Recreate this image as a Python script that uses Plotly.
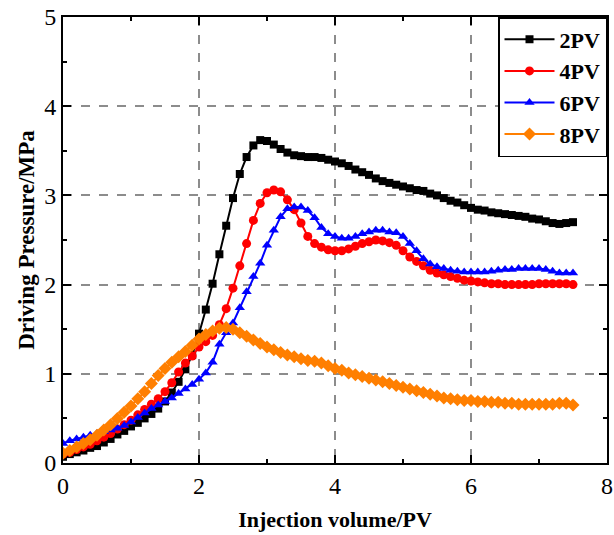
import plotly.graph_objects as go

x_pv = [0.0, 0.1, 0.2, 0.3, 0.4, 0.5, 0.6, 0.7, 0.8, 0.9,
        1.0, 1.1, 1.2, 1.3, 1.4, 1.5, 1.6, 1.7, 1.8, 1.9,
        2.0, 2.1, 2.2, 2.3, 2.4, 2.5, 2.6, 2.7, 2.8, 2.9,
        3.0, 3.1, 3.2, 3.3, 3.4, 3.5, 3.6, 3.7, 3.8, 3.9,
        4.0, 4.1, 4.2, 4.3, 4.4, 4.5, 4.6, 4.7, 4.8, 4.9,
        5.0, 5.1, 5.2, 5.3, 5.4, 5.5, 5.6, 5.7, 5.8, 5.9,
        6.0, 6.1, 6.2, 6.3, 6.4, 6.5, 6.6, 6.7, 6.8, 6.9,
        7.0, 7.1, 7.2, 7.3, 7.4, 7.5]

p_2pv = [0.07, 0.10, 0.12, 0.14, 0.17, 0.19, 0.23, 0.27, 0.32, 0.36,
         0.41, 0.45, 0.50, 0.55, 0.61, 0.69, 0.79, 0.91, 1.05, 1.21,
         1.45, 1.72, 2.01, 2.34, 2.66, 2.97, 3.24, 3.43, 3.56, 3.62,
         3.61, 3.57, 3.52, 3.48, 3.45, 3.44, 3.43, 3.43, 3.42, 3.40,
         3.38, 3.36, 3.33, 3.29, 3.26, 3.23, 3.19, 3.16, 3.14, 3.12,
         3.10, 3.08, 3.06, 3.05, 3.02, 3.00, 2.97, 2.94, 2.92, 2.89,
         2.86, 2.84, 2.83, 2.81, 2.80, 2.79, 2.78, 2.77, 2.76, 2.74,
         2.73, 2.71, 2.69, 2.68, 2.69, 2.70]

p_4pv = [0.10, 0.12, 0.15, 0.18, 0.21, 0.25, 0.29, 0.33, 0.38, 0.43,
         0.48, 0.54, 0.60, 0.66, 0.72, 0.80, 0.90, 1.02, 1.12, 1.20,
         1.30, 1.36, 1.43, 1.55, 1.73, 1.96, 2.21, 2.46, 2.72, 2.91,
         3.03, 3.06, 3.04, 2.95, 2.84, 2.69, 2.54, 2.46, 2.42, 2.39,
         2.38, 2.38, 2.40, 2.43, 2.46, 2.48, 2.50, 2.49, 2.47, 2.44,
         2.38, 2.31, 2.26, 2.21, 2.16, 2.13, 2.11, 2.09, 2.07, 2.05,
         2.04, 2.03, 2.02, 2.01, 2.01, 2.00, 2.00, 2.00, 2.00, 2.00,
         2.01, 2.01, 2.01, 2.01, 2.01, 2.00]

p_6pv = [0.22, 0.25, 0.27, 0.29, 0.31, 0.33, 0.35, 0.37, 0.39, 0.42,
         0.46, 0.51, 0.56, 0.61, 0.65, 0.69, 0.73, 0.78, 0.83, 0.88,
         0.94, 1.01, 1.13, 1.33, 1.46, 1.57, 1.74, 1.92, 2.09, 2.24,
         2.44, 2.61, 2.76, 2.85, 2.87, 2.87, 2.83, 2.75, 2.64, 2.57,
         2.54, 2.52, 2.52, 2.54, 2.57, 2.59, 2.61, 2.61, 2.59, 2.58,
         2.54, 2.46, 2.38, 2.29, 2.23, 2.20, 2.18, 2.16, 2.15, 2.14,
         2.14, 2.14, 2.14, 2.15, 2.16, 2.17, 2.17, 2.18, 2.18, 2.18,
         2.18, 2.17, 2.15, 2.13, 2.13, 2.13]

p_8pv = [0.11, 0.14, 0.18, 0.22, 0.26, 0.31, 0.37, 0.43, 0.50, 0.57,
         0.64, 0.72, 0.80, 0.89, 0.98, 1.06, 1.13, 1.19, 1.25, 1.32,
         1.39, 1.44, 1.48, 1.51, 1.52, 1.50, 1.46, 1.42, 1.38, 1.34,
         1.30, 1.27, 1.24, 1.21, 1.19, 1.17, 1.15, 1.14, 1.12, 1.09,
         1.06, 1.04, 1.01, 0.99, 0.97, 0.95, 0.93, 0.91, 0.89, 0.87,
         0.85, 0.83, 0.81, 0.79, 0.77, 0.75, 0.73, 0.72, 0.71, 0.70,
         0.70, 0.69, 0.69, 0.68, 0.68, 0.67, 0.67, 0.66, 0.66, 0.66,
         0.66, 0.66, 0.66, 0.67, 0.67, 0.65]

series_names = ["2PV", "4PV", "6PV", "8PV"]
x_ticks = [0, 2, 4, 6, 8]
y_ticks = [0, 1, 2, 3, 4, 5]

styles = [
    ("#000000", "square", 8),
    ("#ff0000", "circle", 9),
    ("#0000ff", "triangle-up", 9),
    ("#ff7f00", "diamond", 10),
]

fig = go.Figure()
for name, ys, (col, sym, sz) in zip(series_names, [p_2pv, p_4pv, p_6pv, p_8pv], styles):
    fig.add_trace(go.Scatter(
        x=x_pv, y=ys, name=name, mode="lines+markers",
        line=dict(color=col, width=2),
        marker=dict(color=col, symbol=sym, size=sz, line=dict(width=0)),
    ))

axis_common = dict(
    showline=True, linecolor="black", linewidth=2, mirror="ticks",
    ticks="inside", ticklen=8, tickwidth=2, tickcolor="black",
    showgrid=True, gridcolor="#8c8c8c", griddash="dash", gridwidth=1.5,
    zeroline=False, automargin=False,
    tickfont=dict(family="Liberation Serif", size=24, color="black"),
)

fig.update_xaxes(
    range=[0, 8], tickvals=x_ticks,
    minor=dict(ticks="inside", ticklen=4, tickwidth=2, tickcolor="black", dtick=1, showgrid=False),
    title=dict(text="<b>Injection volume/PV</b>", font=dict(family="Liberation Serif", size=22, color="black"), standoff=14),
    **axis_common,
)
fig.update_yaxes(
    range=[0, 5], tickvals=y_ticks,
    minor=dict(ticks="inside", ticklen=4, tickwidth=2, tickcolor="black", dtick=0.5, showgrid=False),
    title=dict(text="<b>Driving Pressure/MPa</b>", font=dict(family="Liberation Serif", size=23, color="black"), standoff=3),
    **axis_common,
)

fig.update_layout(
    width=614, height=535,
    margin=dict(l=63, r=7, t=17, b=72),
    plot_bgcolor="white", paper_bgcolor="white",
    showlegend=True,
    legend=dict(
        x=1, y=1, xanchor="right", yanchor="top",
        bgcolor="white", bordercolor="black", borderwidth=1.5,
        font=dict(family="Liberation Serif", size=22, color="black", weight="bold"),
        itemwidth=50, tracegroupgap=0,
    ),
)

fig.write_html("out.html", config={"displayModeBar": False},
               post_script="document.body.style.margin='0';document.body.style.overflow='hidden';")
